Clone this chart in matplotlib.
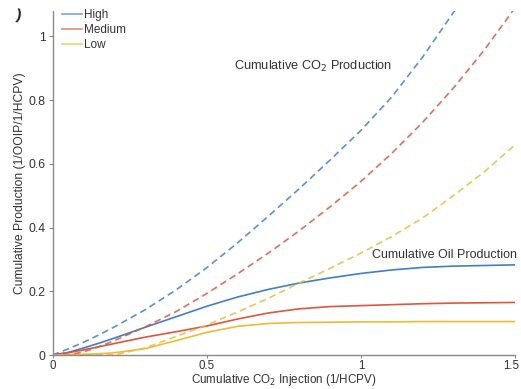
import matplotlib
matplotlib.use("Agg")
import matplotlib.pyplot as plt
import matplotlib.transforms as mtransforms

plt.rcParams['font.family'] = ['Liberation Sans', 'DejaVu Sans']

# Data
x = [0, 0.05, 0.1, 0.15, 0.2, 0.3, 0.4, 0.5, 0.6, 0.7, 0.8, 0.9, 1.0, 1.1, 1.2, 1.3, 1.4, 1.5]

co2_high = [0, 0.019, 0.04, 0.063, 0.088, 0.142, 0.204, 0.274, 0.352, 0.436, 0.522, 0.612, 0.705, 0.81, 0.935, 1.075, 1.22, 1.37]
co2_medium = [0, 0.0, 0.01, 0.026, 0.045, 0.088, 0.136, 0.193, 0.255, 0.32, 0.39, 0.465, 0.545, 0.633, 0.73, 0.838, 0.957, 1.09]
co2_low = [0, 0, 0, 0, 0.0, 0.022, 0.058, 0.094, 0.135, 0.178, 0.226, 0.272, 0.32, 0.372, 0.43, 0.5, 0.575, 0.66]

oil_high = [0, 0.008, 0.022, 0.037, 0.053, 0.087, 0.12, 0.153, 0.182, 0.206, 0.226, 0.242, 0.256, 0.267, 0.275, 0.279, 0.281, 0.283]
oil_medium = [0, 0.007, 0.016, 0.026, 0.036, 0.056, 0.073, 0.091, 0.113, 0.132, 0.145, 0.152, 0.155, 0.158, 0.161, 0.163, 0.164, 0.165]
oil_low = [0, 0.001, 0.002, 0.004, 0.007, 0.02, 0.045, 0.071, 0.09, 0.099, 0.102, 0.103, 0.104, 0.104, 0.105, 0.105, 0.105, 0.105]

labels = ["High", "Medium", "Low"]
colors = ["#3f80c6", "#e0553e", "#eebb35"]

fig = plt.figure(figsize=(5.21, 3.89), dpi=100)
ax = fig.add_axes([0.101, 0.0874, 0.8875, 0.8843])

for yv, c, lab in zip([oil_high, oil_medium, oil_low], colors, labels):
    ax.plot(x, yv, color=c, lw=1.2, label=lab)
for yv, c in zip([co2_high, co2_medium, co2_low], colors):
    ax.plot(x, yv, color=c, lw=1.2, ls=(0, (4, 2.5)), alpha=0.85)

ax.set_xlim(0, 1.5)
ax.set_ylim(0, 1.08)
ax.set_xticks([0, 0.5, 1, 1.5])
ax.set_xticklabels(["0", "0.5", "1", "1.5"])
ax.set_yticks([0, 0.2, 0.4, 0.6, 0.8, 1.0])
ax.set_yticklabels(["0", "0.2", "0.4", "0.6", "0.8", "1"])

for s in ["top", "right"]:
    ax.spines[s].set_visible(False)
for s in ["left", "bottom"]:
    ax.spines[s].set_color("#8a8a8a")
    ax.spines[s].set_linewidth(1.0)
ax.tick_params(direction="out", length=3, width=0.8, color="#8a8a8a",
               labelsize=8.7, labelcolor="#333333", pad=2)
ax.tick_params(axis="x", length=2.5, pad=1, labelsize=8.3)

# nudge the last x tick label so it stays inside the figure
lab_last = ax.get_xticklabels()[-1]
lab_last.set_transform(lab_last.get_transform() +
                       mtransforms.ScaledTranslation(-4 / 100, 0, fig.dpi_scale_trans))

ax.set_xlabel("Cumulative CO$_2$ Injection (1/HCPV)", fontsize=8.4, color="#333333")
ax.xaxis.set_label_coords(0.5, -0.096)
ax.xaxis.label.set_va("bottom")
ax.set_ylabel("Cumulative Production (1/OOIP/1/HCPV)", fontsize=8.7, color="#333333", labelpad=2)

ax.text(0.59, 0.907, "Cumulative CO$_2$ Production", fontsize=9.2, color="#333333",
        ha="left", va="center")
ax.text(1.037, 0.313, "Cumulative Oil Production", fontsize=9, color="#333333",
        ha="left", va="center")

leg = ax.legend(loc="upper left", bbox_to_anchor=(0.02, 1.005), frameon=False,
                fontsize=8.5, handlelength=1.7, handletextpad=0.2,
                labelspacing=0.25, borderaxespad=0, borderpad=0)
for t in leg.get_texts():
    t.set_color("#333333")
for h in leg.get_lines():
    h.set_alpha(0.7)

fig.text(0.028, 0.978, ")", fontsize=11, fontweight="bold", color="#222222",
         ha="left", va="top", rotation=-10)

fig.savefig("out.png", dpi=100)
